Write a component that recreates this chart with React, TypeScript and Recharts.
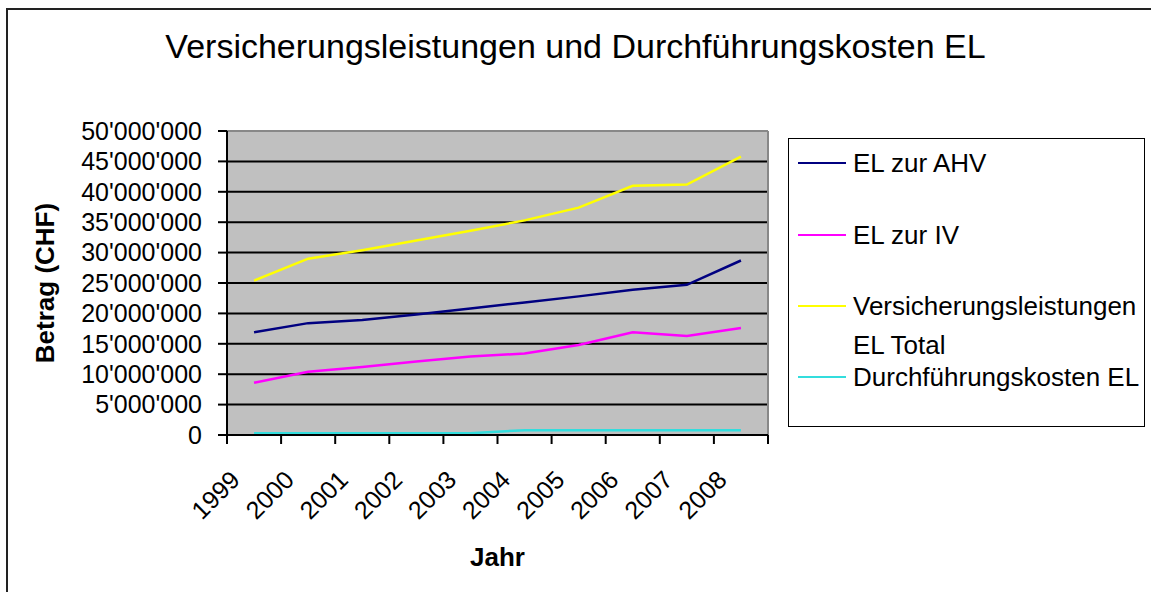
import React from 'react';
import { LineChart, Line, XAxis, YAxis, CartesianGrid } from 'recharts';

const years = ['1999', '2000', '2001', '2002', '2003', '2004', '2005', '2006', '2007', '2008'];
const elAhv = [16900000, 18400000, 18900000, 19800000, 20800000, 21800000, 22800000, 23900000, 24700000, 28700000];
const elIv = [8600000, 10400000, 11200000, 12100000, 12900000, 13400000, 14800000, 16900000, 16300000, 17600000];
const elTotal = [25400000, 29000000, 30400000, 32000000, 33600000, 35300000, 37400000, 41000000, 41200000, 45800000];
const kosten = [300000, 300000, 300000, 300000, 300000, 800000, 800000, 800000, 800000, 800000];
const yTicks = [0, 5000000, 10000000, 15000000, 20000000, 25000000, 30000000, 35000000, 40000000, 45000000, 50000000];

const series = [
  { key: 'ahv', name: 'EL zur AHV', color: '#000080' },
  { key: 'iv', name: 'EL zur IV', color: '#ff00ff' },
  { key: 'total', name: 'Versicherungsleistungen EL Total', color: '#ffff00' },
  { key: 'kosten', name: 'Durchführungskosten EL', color: '#33dddd' },
];

const data = years.map((year, i) => ({
  year,
  ahv: elAhv[i],
  iv: elIv[i],
  total: elTotal[i],
  kosten: kosten[i],
}));

const FONT = '"Liberation Sans", Arial, sans-serif';
const PLOT_LEFT = 227;
const PLOT_RIGHT = 768;
const PLOT_TOP = 131;
const PLOT_BOTTOM = 435;
const HALF_STEP = (PLOT_RIGHT - PLOT_LEFT) / years.length / 2;

const fmt = (v: number) => String(v).replace(/\B(?=(\d{3})+(?!\d))/g, "'");

const YearTick = (props: any) => {
  const { x, y, payload, index } = props;
  const last = index === years.length - 1;
  return (
    <g>
      <line x1={x - HALF_STEP} x2={x - HALF_STEP} y1={y} y2={y + 9} stroke="#000" strokeWidth={2} />
      {last && <line x1={x + HALF_STEP} x2={x + HALF_STEP} y1={y} y2={y + 9} stroke="#000" strokeWidth={2} />}
      <text
        transform={`translate(${x - 19},${y + 40}) rotate(-45)`}
        textAnchor="end"
        dominantBaseline="central"
        fontSize={25}
        fontFamily={FONT}
        fill="#000"
      >
        {payload.value}
      </text>
    </g>
  );
};

// legend rows: top offset inside the box and line height (Excel spreads the wrapped one)
const legendTops = [13, 85, 148, 227];
const legendLine = [23, 23, 39, 23];

const App: React.FC = () => {
  return (
    <div style={{ position: 'absolute', left: 0, top: 0, width: 1151, height: 592, background: '#fff', overflow: 'hidden', fontFamily: FONT }}>
      <div style={{ position: 'absolute', left: 6, top: 8, width: 1160, height: 600, border: '2px solid #222' }} />
      <div style={{ position: 'absolute', left: 0, width: 1151, top: 27, textAlign: 'center', fontSize: 34, color: '#000' }}>
        Versicherungsleistungen und Durchführungskosten EL
      </div>

      <div style={{ position: 'absolute', left: 0, top: 0 }}>
        <LineChart
          width={1151}
          height={592}
          data={data}
          margin={{ top: PLOT_TOP, left: 27, right: 1151 - PLOT_RIGHT, bottom: 592 - PLOT_BOTTOM - 120 }}
        >
          <CartesianGrid vertical={false} stroke="#000" strokeWidth={2} fill="#c0c0c0" fillOpacity={1} />
          <CartesianGrid
            stroke="#888"
            strokeWidth={2}
            horizontalCoordinatesGenerator={({ offset }: any) => [offset.top]}
            verticalCoordinatesGenerator={({ offset }: any) => [offset.left + offset.width]}
          />
          <XAxis
            dataKey="year"
            type="category"
            height={120}
            padding={{ left: HALF_STEP, right: HALF_STEP }}
            axisLine={{ stroke: '#000', strokeWidth: 2 }}
            tickLine={false}
            tickSize={0}
            tickMargin={0}
            interval={0}
            tick={<YearTick />}
            label={({ viewBox }: any) => (
              <text
                x={viewBox.x + viewBox.width / 2}
                y={viewBox.y + 131}
                textAnchor="middle"
                fontSize={26}
                fontWeight="bold"
                fontFamily={FONT}
                fill="#000"
              >
                Jahr
              </text>
            )}
          />
          <YAxis
            width={200}
            domain={[0, 50000000]}
            ticks={yTicks}
            interval={0}
            tickFormatter={fmt}
            axisLine={{ stroke: '#000', strokeWidth: 2 }}
            tickLine={{ stroke: '#000', strokeWidth: 2 }}
            tickSize={9}
            tickMargin={16}
            tick={{ fill: '#000', fontSize: 25, fontFamily: FONT }}
            label={({ viewBox }: any) => (
              <text
                transform={`translate(${viewBox.x + 18},${viewBox.y + viewBox.height / 2}) rotate(-90)`}
                textAnchor="middle"
                dominantBaseline="central"
                fontSize={26}
                fontWeight="bold"
                fontFamily={FONT}
                fill="#000"
              >
                Betrag (CHF)
              </text>
            )}
          />
          {series.map(s => (
            <Line
              key={s.key}
              dataKey={s.key}
              name={s.name}
              stroke={s.color}
              strokeWidth={2.5}
              dot={false}
              type="linear"
              isAnimationActive={false}
            />
          ))}
        </LineChart>
      </div>

      <div style={{ position: 'absolute', left: 788, top: 138, width: 357, height: 289, border: '1.5px solid #000', boxSizing: 'border-box' }}>
        {series.map((s, i) => (
          <div key={s.key} style={{ position: 'absolute', left: 0, top: legendTops[i], width: 357, fontSize: 26, lineHeight: `${legendLine[i]}px` }}>
            <div style={{ position: 'absolute', left: 9, top: legendLine[i] / 2 - 2, width: 48, height: 2, background: s.color }} />
            <div style={{ marginLeft: 64, width: 290, color: '#000' }}>{s.name}</div>
          </div>
        ))}
      </div>
    </div>
  );
};

export default App;
